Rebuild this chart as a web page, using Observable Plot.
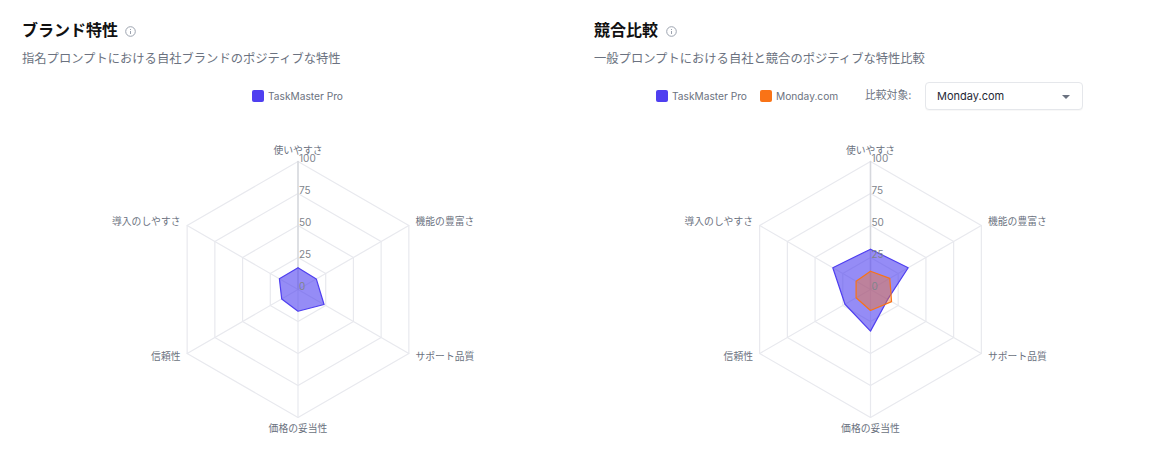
<!DOCTYPE html>
<html lang="ja">
<head>
<meta charset="utf-8">
<script src="https://cdn.jsdelivr.net/npm/d3@7"></script>
<script src="https://cdn.jsdelivr.net/npm/@observablehq/plot@0.6"></script>
<style>
html,body{margin:0;padding:0;background:#fff;}
body{width:1166px;height:476px;position:relative;overflow:hidden;font-family:Inter,"Noto Sans CJK JP",sans-serif;}
.abs{position:absolute;white-space:nowrap;line-height:1;}
.title{font-size:16px;font-weight:700;color:#111;top:22px;}
.sub{font-size:12.3px;color:#6b7280;top:53px;}
.leg{font-size:10.2px;color:#6b7280;top:91px;}
.sw{width:12px;height:12px;border-radius:2px;top:90px;}
.info{top:26px;width:11px;height:11px;}
.plotbox{position:absolute;top:130px;}
.select{left:925px;top:82px;width:158px;height:28px;box-sizing:border-box;border:1px solid #e5e7eb;border-radius:4px;background:#fff;box-shadow:0 1px 1px rgba(0,0,0,.03);}
.select span{position:absolute;left:11px;top:8px;font-size:11px;color:#1f2937;line-height:1;}
.select i{position:absolute;left:136px;top:11.5px;width:0;height:0;border-left:4.5px solid transparent;border-right:4.5px solid transparent;border-top:4.5px solid #6b7280;}
</style>
</head>
<body>
<div class="abs title" style="left:22px">ブランド特性</div>
<svg class="abs info" style="left:125px" viewBox="0 0 11 11"><circle cx="5.5" cy="5.5" r="4.8" fill="none" stroke="#9ca3af"/><path d="M5.5 5v3M5.5 3v1" stroke="#9ca3af"/></svg>
<div class="abs sub" style="left:22px">指名プロンプトにおける自社ブランドのポジティブな特性</div>
<div class="abs sw" style="left:252px;background:#4f3ff0"></div>
<div class="abs leg" style="left:268px">TaskMaster Pro</div>

<div class="abs title" style="left:594px">競合比較</div>
<svg class="abs info" style="left:666px" viewBox="0 0 11 11"><circle cx="5.5" cy="5.5" r="4.8" fill="none" stroke="#9ca3af"/><path d="M5.5 5v3M5.5 3v1" stroke="#9ca3af"/></svg>
<div class="abs sub" style="left:594px">一般プロンプトにおける自社と競合のポジティブな特性比較</div>
<div class="abs sw" style="left:656px;background:#4f3ff0"></div>
<div class="abs leg" style="left:672px">TaskMaster Pro</div>
<div class="abs sw" style="left:760px;background:#f97316"></div>
<div class="abs leg" style="left:776px">Monday.com</div>
<div class="abs leg" style="left:865px;font-size:10.8px">比較対象:</div>
<div class="abs select"><span>Monday.com</span><i></i></div>

<div class="plotbox" id="left" style="left:0"></div>
<div class="plotbox" id="right" style="left:583px"></div>

<script>
const attributes = ["使いやすさ","機能の豊富さ","サポート品質","価格の妥当性","信頼性","導入のしやすさ"];
const brandValues = [17, 16.5, 23.5, 17, 14.7, 16.8];
const compareBrandValues = [31.5, 34, 15.5, 32.5, 23, 34];
const compareRivalValues = [14.3, 17.4, 19, 16.4, 13, 13];
const ringTicks = [25, 50, 75, 100];
const tickLabels = [0, 25, 50, 75, 100];
const brandColor = "#4f3ff0";
const rivalColor = "#f97316";

const angle = i => i * Math.PI / 3;
const px = (r, i) => r * Math.sin(angle(i));
const py = (r, i) => r * Math.cos(angle(i));
const ring = values => [...values, values[0]].map((v, i) => ({x: px(v, i), y: py(v, i)}));
const rings = ringTicks.flatMap(t => ring(attributes.map(() => t)).map(p => ({...p, t})));
const spokes = attributes.flatMap((a, i) => [{x: 0, y: 0, a}, {x: px(100, i), y: py(100, i), a}]);
const labelled = attributes.map((a, i) => ({a, i}));

function labelMark(rows, radius, textAnchor) {
  return Plot.text(rows, {
    x: d => px(radius, d.i), y: d => py(radius, d.i), text: "a",
    textAnchor, fontSize: 9.8, fill: "#6b7280"
  });
}

function radar(cx, series) {
  return Plot.plot({
    width: 583, height: 320,
    margin: 0,
    style: {background: "transparent", fontFamily: 'Inter,"Noto Sans CJK JP",sans-serif'},
    x: {domain: [-100, 100], range: [cx - 128, cx + 128], axis: null},
    y: {domain: [-100, 100], range: [159 + 128, 159 - 128], axis: null},
    marks: [
      Plot.line(rings, {x: "x", y: "y", z: "t", stroke: "#e8e9ee", strokeWidth: 1.2}),
      Plot.line(spokes, {x: "x", y: "y", z: "a", stroke: "#e8e9ee", strokeWidth: 1.2}),
      Plot.line([{x: 0, y: 0}, {x: 0, y: 100}], {x: "x", y: "y", stroke: "#d6d8dd", strokeWidth: 1.5}),
      ...series.map(s => Plot.line(ring(s.values), {
        x: "x", y: "y", fill: s.color, fillOpacity: s.opacity,
        stroke: s.color, strokeWidth: 1.2
      })),
      Plot.text(tickLabels, {
        x: () => 0, y: d => d, text: d => String(d),
        textAnchor: "start", dx: 1, dy: -3, fontSize: 10, fill: "#80848c"
      }),
      labelMark(labelled.filter(d => d.i === 1 || d.i === 2), 106, "start"),
      labelMark(labelled.filter(d => d.i === 4 || d.i === 5), 106, "end"),
      labelMark(labelled.filter(d => d.i % 3 === 0), 108.5, "middle")
    ]
  });
}

document.getElementById("left").append(radar(297.5, [
  {values: brandValues, color: brandColor, opacity: 0.6}
]));
document.getElementById("right").append(radar(287, [
  {values: compareBrandValues, color: brandColor, opacity: 0.6},
  {values: compareRivalValues, color: rivalColor, opacity: 0.4}
]));
</script>
</body>
</html>
